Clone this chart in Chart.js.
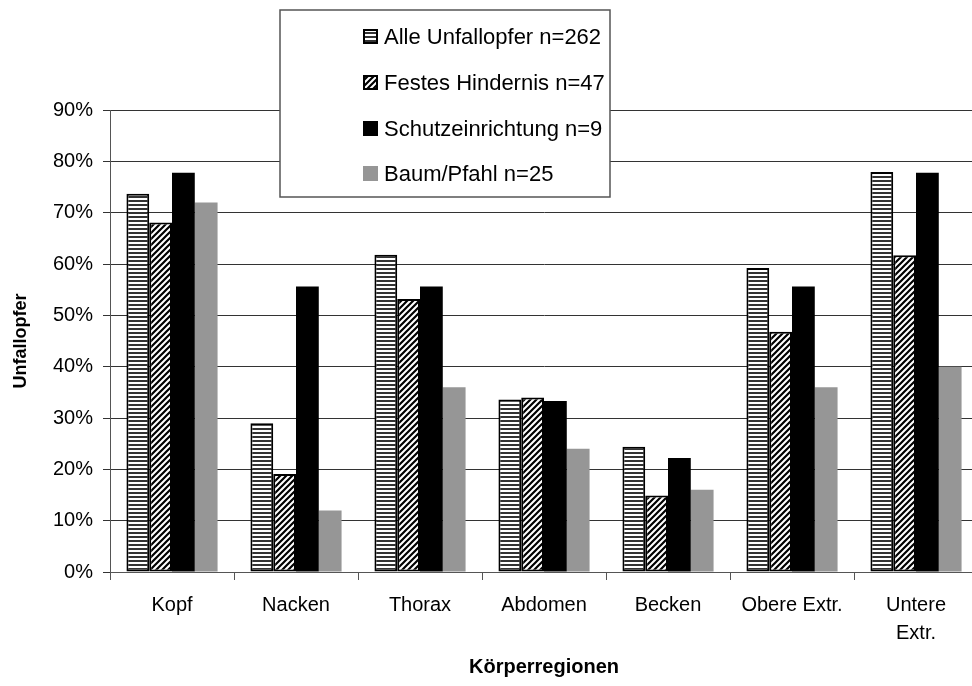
<!DOCTYPE html>
<html>
<head>
<meta charset="utf-8">
<script src="https://cdn.jsdelivr.net/npm/chart.js@4.4.1/dist/chart.umd.min.js"></script>
<style>
  html, body { margin: 0; padding: 0; background: #fff; overflow: hidden; }
  #wrap { position: relative; width: 990px; height: 686px; }
</style>
</head>
<body>
<div id="wrap"><canvas id="myChart"></canvas></div>
<script>
// data (percent of victims)
const categories = ['Kopf', 'Nacken', 'Thorax', 'Abdomen', 'Becken', 'Obere Extr.', ['Untere', 'Extr.']];
const seriesNames = ['Alle Unfallopfer n=262', 'Festes Hindernis n=47', 'Schutzeinrichtung n=9', 'Baum/Pfahl n=25'];
const alleValues = [73.7, 29.0, 61.8, 33.6, 24.4, 59.2, 77.9];
const festesValues = [68.1, 19.1, 53.2, 34.0, 14.9, 46.8, 61.7];
const schutzValues = [77.8, 55.6, 55.6, 33.3, 22.2, 55.6, 77.8];
const baumValues = [72, 12, 36, 24, 16, 36, 40];
const yTicks = [0, 10, 20, 30, 40, 50, 60, 70, 80, 90];

const FONT = '"Liberation Sans", Arial, sans-serif';

// fill patterns
function stripePattern() {
  const c = document.createElement('canvas');
  c.width = 4; c.height = 4;
  const g = c.getContext('2d');
  g.fillStyle = '#fff';
  g.fillRect(0, 0, 4, 4);
  g.fillStyle = '#333';
  g.fillRect(0, 0, 4, 2);
  return g.createPattern(c, 'repeat');
}
function hatchPattern() {
  const s = 6;
  const c = document.createElement('canvas');
  c.width = s; c.height = s;
  const g = c.getContext('2d');
  g.fillStyle = '#fff';
  g.fillRect(0, 0, s, s);
  g.strokeStyle = '#000';
  g.lineWidth = 2.2;
  g.beginPath();
  g.moveTo(-1, s + 1); g.lineTo(s + 1, -1);
  g.moveTo(-1, 1); g.lineTo(1, -1);
  g.moveTo(s - 1, s + 1); g.lineTo(s + 1, s - 1);
  g.stroke();
  return g.createPattern(c, 'repeat');
}

// legend box laid over the top of the plot
const boxLegend = {
  id: 'boxLegend',
  afterDraw(chart) {
    const ctx = chart.ctx;
    ctx.save();
    ctx.fillStyle = '#fff';
    ctx.fillRect(280, 10, 330, 187);
    ctx.strokeStyle = '#555';
    ctx.lineWidth = 1.5;
    ctx.strokeRect(280, 10, 330, 187);
    const rows = [37, 83, 129, 174];
    chart.data.datasets.forEach((ds, i) => {
      const y = rows[i];
      ctx.fillStyle = ds.backgroundColor;
      ctx.fillRect(363, y - 8, 15, 15);
      if (ds.borderWidth) {
        ctx.strokeStyle = ds.borderColor;
        ctx.lineWidth = 2;
        ctx.strokeRect(364, y - 7, 13, 13);
      }
      ctx.fillStyle = '#000';
      ctx.font = '22px ' + FONT;
      ctx.textBaseline = 'middle';
      ctx.fillText(ds.label, 384, y + 1);
    });
    ctx.restore();
  }
};

const ctx = document.getElementById('myChart').getContext('2d');
const myChart = new Chart(ctx, {
  type: 'bar',
  data: {
    labels: categories,
    datasets: [
      { label: seriesNames[0], data: alleValues, backgroundColor: stripePattern(), borderColor: '#000', borderWidth: 2, borderSkipped: false },
      { label: seriesNames[1], data: festesValues, backgroundColor: hatchPattern(), borderColor: '#000', borderWidth: 2, borderSkipped: false },
      { label: seriesNames[2], data: schutzValues, backgroundColor: '#000', borderWidth: 0 },
      { label: seriesNames[3], data: baumValues, backgroundColor: '#969696', borderWidth: 0 }
    ]
  },
  options: {
    responsive: true,
    maintainAspectRatio: false,
    animation: false,
    layout: { padding: { top: 110, right: 12, left: 0, bottom: 0 } },
    datasets: { bar: { categoryPercentage: 0.735, barPercentage: 1.0 } },
    plugins: { legend: { display: false }, tooltip: { enabled: false } },
    scales: {
      x: {
        grid: { offset: true, drawOnChartArea: false, drawTicks: true, tickLength: 8, color: '#555' },
        border: { color: '#555' },
        ticks: { color: '#000', font: { family: FONT, size: 20, lineHeight: 1.4 }, padding: 11, maxRotation: 0, autoSkip: false },
        title: { display: true, text: 'Körperregionen', color: '#000', font: { family: FONT, size: 20, weight: 'bold' }, padding: { top: 0, bottom: 7 } },
        afterFit(scale) { scale.height = 114; }
      },
      y: {
        min: 0,
        max: 90,
        afterBuildTicks(scale) { scale.ticks = yTicks.map(v => ({ value: v })); },
        grid: { color: '#333', tickLength: 7, drawTicks: true },
        border: { color: '#555' },
        ticks: { color: '#000', font: { family: FONT, size: 20 }, padding: 10, callback: v => v + '%' },
        title: { display: true, text: 'Unfallopfer', color: '#000', font: { family: FONT, size: 18, weight: 'bold' }, padding: { top: 10, bottom: 0 } },
        afterFit(scale) { scale.width = 110; }
      }
    }
  },
  plugins: [boxLegend]
});
</script>
</body>
</html>
